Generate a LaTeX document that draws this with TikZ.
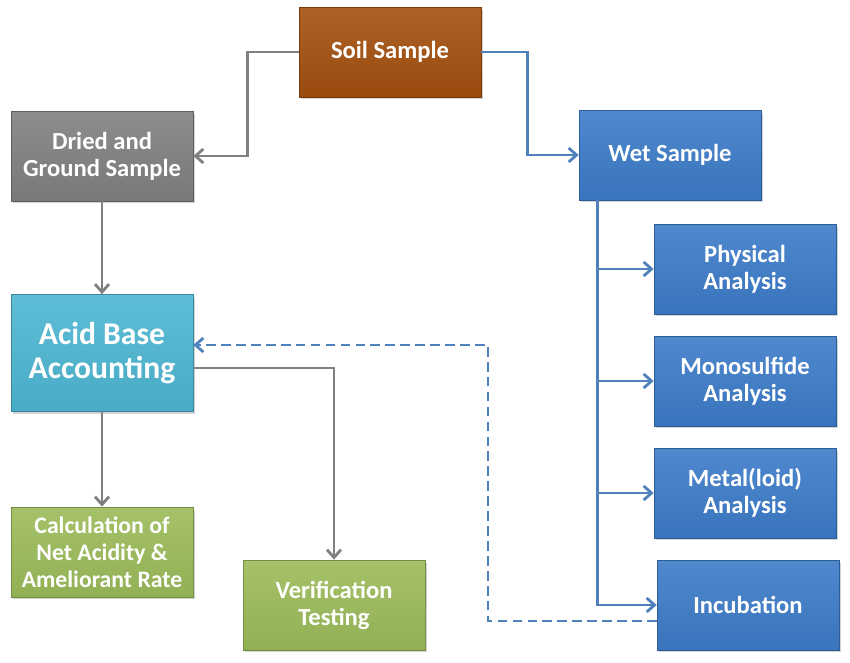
\documentclass[tikz,border=0pt]{standalone}
\usepackage{fontspec}
\setmainfont{Carlito}
\usetikzlibrary{arrows.meta,calc,shadows}

\definecolor{soilbrown}{HTML}{A3500F}
\definecolor{drygray}{HTML}{808080}
\definecolor{wetblue}{HTML}{3C7BC8}
\definecolor{abacyan}{HTML}{4DB6D2}
\definecolor{calcgreen}{HTML}{9BBB59}
\definecolor{linegray}{HTML}{808080}
\definecolor{lineblue}{HTML}{4F81BD}

\tikzset{
  box/.style={draw=#1!75!black, thin, top color=#1!90!white, bottom color=#1!94!black,
    text=white, font=\bfseries\fontsize{14}{15.3}\selectfont, align=center,
    minimum width=3.64cm, minimum height=1.8cm, inner sep=2pt,
    drop shadow={shadow xshift=0.04cm, shadow yshift=-0.05cm, opacity=0.35}},
  grayline/.style={draw=linegray, line width=1.6pt},
  blueline/.style={draw=lineblue, line width=1.6pt},
  arr/.style={-{Straight Barb[length=4.5pt,width=8pt,line width=1.6pt]}}
}

\begin{document}
\begin{tikzpicture}[x=0.02cm, y=-0.02cm]
            % Picture frame
            \useasboundingbox (0,0) rectangle (850,663);

            % Source and first split
            \node[box=soilbrown] (soil) at (390,52) {Soil Sample};
            \node[box=drygray] (dried) at (102,156) {Dried and\\Ground Sample};
            \node[box=wetblue] (wet) at (670,155) {Wet Sample};

            % Dried branch
            \node[box=abacyan, minimum height=2.34cm,
                  font=\bfseries\fontsize{18}{19.5}\selectfont] (aba) at (102,353) {Acid Base\\Accounting};
            \node[box=calcgreen, font=\bfseries\fontsize{13.5}{15.3}\selectfont] (calc) at (102,552) {Calculation of\\Net Acidity \&\\Ameliorant Rate};
            \node[box=calcgreen] (verif) at (334,605) {Verification\\Testing};

            % Wet branch
            \node[box=wetblue] (phys) at (745,269) {Physical\\Analysis};
            \node[box=wetblue] (mono) at (745,381) {Monosulfide\\Analysis};
            \node[box=wetblue] (metal) at (745,493) {Metal(loid)\\Analysis};
            \node[box=wetblue] (incub) at (748,605) {Incubation};

            % Connectors
            \draw[grayline, arr] (soil.west) -- ++(-51,0) |- (dried.east);
            \draw[blueline, arr] (soil.east) -- ++(46,0) |- (wet.west);
            \draw[grayline, arr] (dried) -- (aba);
            \draw[grayline, arr] (aba) -- (calc);
            \draw[grayline, arr] ($(aba.east)+(0,15)$) -| (verif.north);

            \coordinate (trunk) at ($(wet.south west)+(19,0)$);
            \draw[blueline, arr] (trunk) |- (incub.west);
            \foreach \b in {phys,mono,metal}
              \draw[blueline, arr] (trunk |- \b.west) -- (\b.west);

            \draw[blueline, arr, dash pattern=on 5.5pt off 3pt]
              ($(incub.west)+(0,16)$) -| (488,345) -- ($(aba.east)+(0,-8)$);

        \end{tikzpicture}
\end{document}
